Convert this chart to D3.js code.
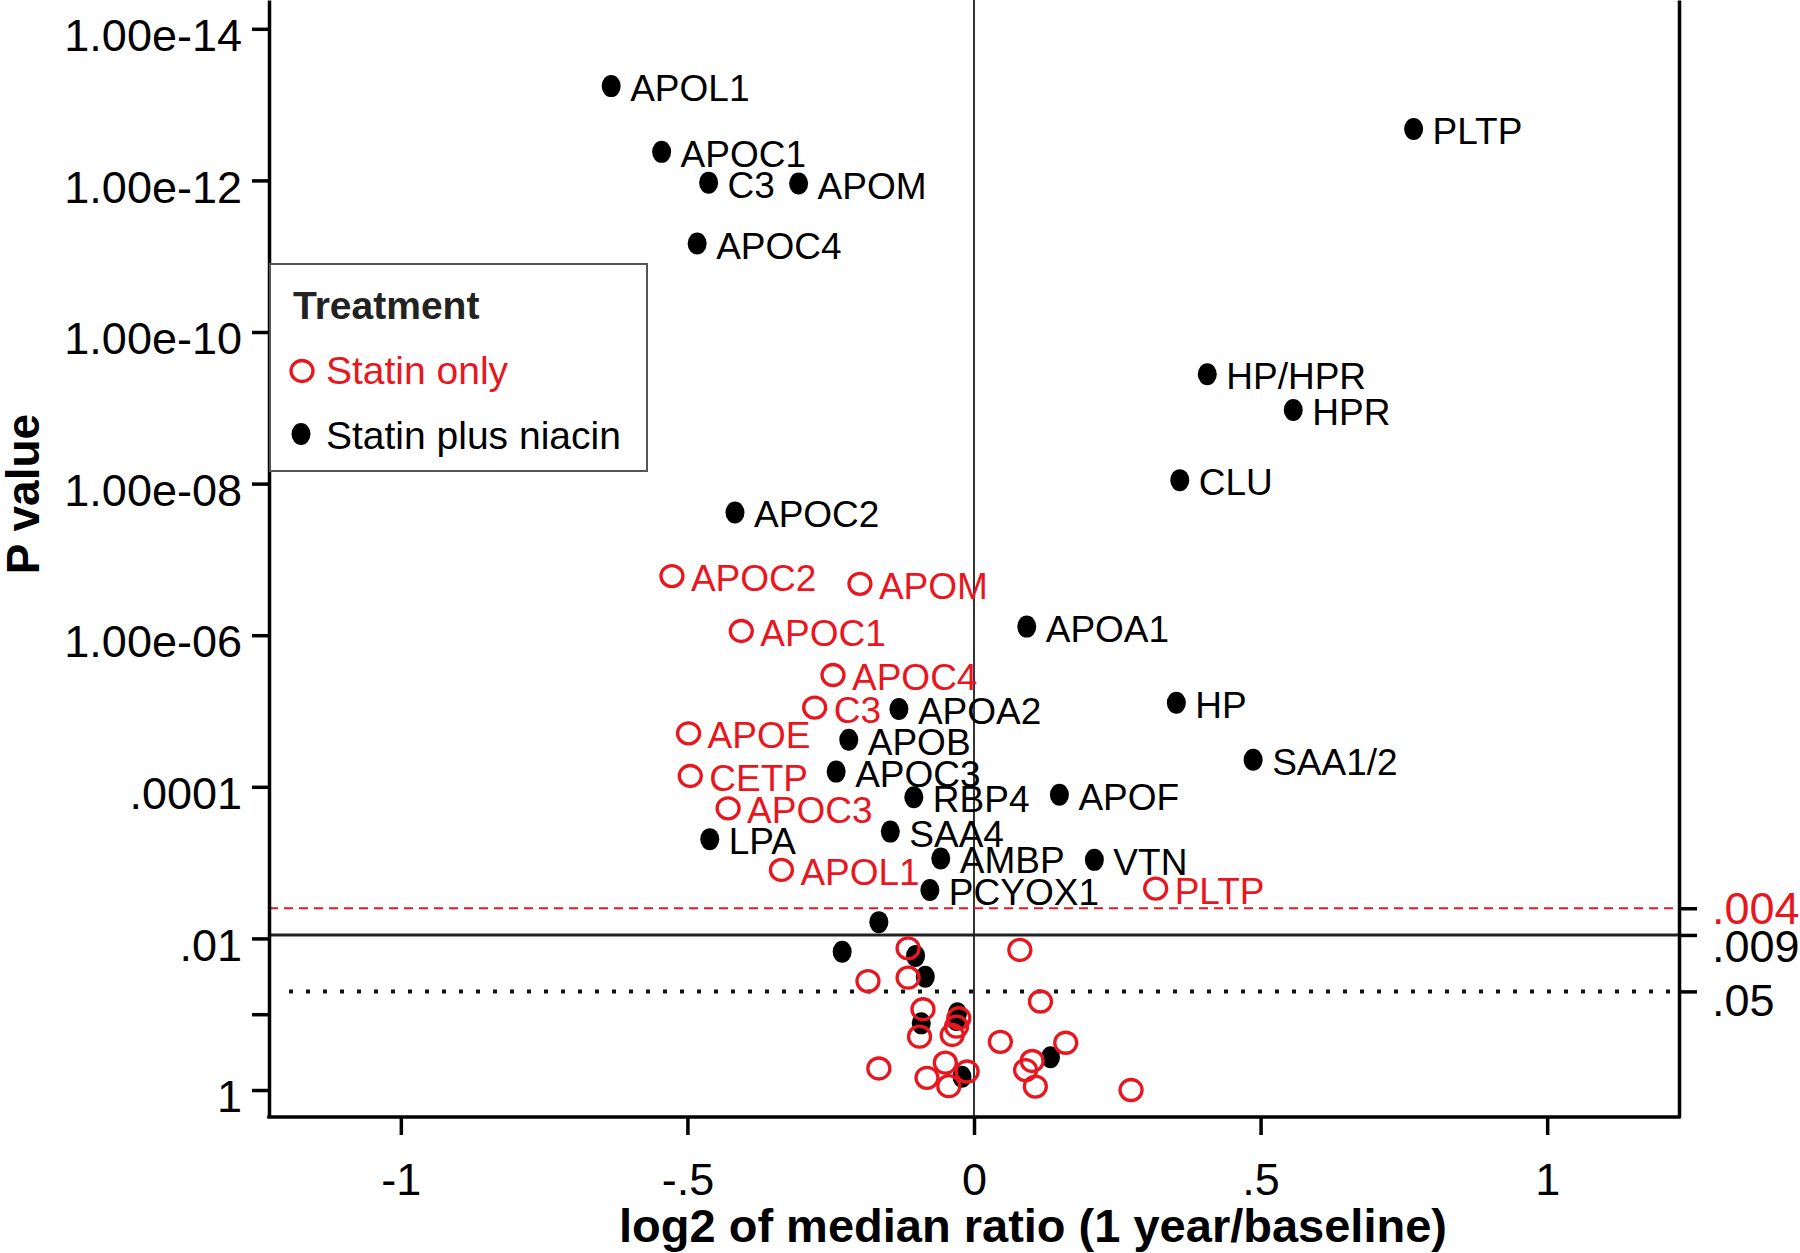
<!DOCTYPE html>
<html>
<head>
<meta charset="utf-8">
<script src="https://cdn.jsdelivr.net/npm/d3@7"></script>
<style>
  body { margin: 0; background: #fff; }
  text { font-family: "Liberation Sans", Arial, Helvetica, sans-serif; }
</style>
</head>
<body>
<div id="chart"></div>
<script>
// Statin plus niacin (filled black)
const niacinGenes = ["APOL1", "APOC1", "C3", "APOM", "APOC4", "PLTP", "HP/HPR", "HPR", "CLU", "APOC2",
    "APOA1", "HP", "SAA1/2", "APOA2", "APOB", "APOC3", "RBP4", "APOF", "SAA4", "LPA", "AMBP", "VTN", "PCYOX1",
    "", "", "", "", "", "", "", "", ""]
const niacinX = [-0.633, -0.545, -0.463, -0.306, -0.483, 0.767, 0.407, 0.557, 0.359, -0.417,
    0.092, 0.353, 0.487, -0.131, -0.2185, -0.2405, -0.105, 0.149, -0.146, -0.461, -0.058, 0.210, -0.077,
    -0.166, -0.230, -0.102, -0.085, -0.092, -0.029, -0.031, -0.021, 0.1335]
const niacinP = [5.7e-14, 4.2e-13, 1.07e-12, 1.1e-12, 6.8e-12, 2.1e-13, 3.6e-10, 1.07e-9, 9.0e-9, 2.4e-8,
    7.7e-7, 7.8e-6, 4.4e-5, 9.4e-6, 2.4e-5, 6.3e-5, 1.37e-4, 1.27e-4, 3.9e-4, 4.9e-4, 8.8e-4, 9.2e-4, 2.3e-3,
    6.1e-3, 0.015, 0.017, 0.032, 0.132, 0.097, 0.119, 0.67, 0.37]

// Statin only (open red)
const statinGenes = ["APOC2", "APOM", "APOC1", "APOC4", "C3", "APOE", "CETP", "APOC3", "APOL1", "PLTP",
    "", "", "", "", "", "", "", "", "", "", "", "", "", "", "", "", "", "", "", "", ""]
const statinX = [-0.527, -0.199, -0.406, -0.246, -0.278, -0.498, -0.495, -0.429, -0.336, 0.317,
    -0.115, -0.115, -0.185, -0.089, -0.095, -0.0265, -0.0305, -0.038, -0.166, -0.050, -0.082, -0.044, -0.012,
    0.080, 0.116, 0.046, 0.160, 0.1015, 0.090, 0.107, 0.274]
const statinP = [1.66e-7, 2.1e-7, 8.8e-7, 3.35e-6, 9.0e-6, 1.97e-5, 7.2e-5, 1.92e-4, 1.25e-3, 2.2e-3,
    0.0135, 0.033, 0.0365, 0.086, 0.198, 0.113, 0.146, 0.188, 0.52, 0.436, 0.69, 0.89, 0.57,
    0.0142, 0.068, 0.231, 0.238, 0.414, 0.545, 0.90, 1.0]

const yTickValues = [1e-14, 1e-12, 1e-10, 1e-8, 1e-6, 1e-4, 1e-2, 1e-1, 1]
const yTickLabels = ["1.00e-14", "1.00e-12", "1.00e-10", "1.00e-08", "1.00e-06", ".0001", ".01", "", "1"]
const xTickValues = [-1, -0.5, 0, 0.5, 1]
const xTickLabels = ["-1", "-.5", "0", ".5", "1"]
const cutValues = [0.004, 0.009, 0.05]
const cutLabels = [".004", ".009", ".05"]

const legendLabels = ["Statin only", "Statin plus niacin"]

const w = 1800
const h = 1253
const RED = "#e8171f"

const pLeft = 269, pRight = 1679, pTop = 0, pBottom = 1117

var svg = d3.select("#chart").append("svg")
    .attr("width", w).attr("height", h)

var x = d3.scaleLinear().domain([-1.23, 1.23]).range([pLeft, pRight])
var y = d3.scaleLog().domain([Math.pow(10, -14.38), Math.pow(10, 0.356)]).range([pTop, pBottom])

// zero line
svg.append("line")
    .attr("x1", x(0)).attr("x2", x(0))
    .attr("y1", pTop).attr("y2", pBottom)
    .attr("stroke", "#333").attr("stroke-width", 2)

// threshold lines
svg.append("line")
    .attr("x1", pLeft).attr("x2", pRight)
    .attr("y1", y(cutValues[0])).attr("y2", y(cutValues[0]))
    .attr("stroke", RED).attr("stroke-width", 2)
    .attr("stroke-dasharray", "9,6")
svg.append("line")
    .attr("x1", pLeft).attr("x2", pRight)
    .attr("y1", y(cutValues[1])).attr("y2", y(cutValues[1]))
    .attr("stroke", "#222").attr("stroke-width", 3)
svg.append("line")
    .attr("x1", pLeft + 20).attr("x2", pRight)
    .attr("y1", y(cutValues[2])).attr("y2", y(cutValues[2]))
    .attr("stroke", "#111").attr("stroke-width", 4)
    .attr("stroke-dasharray", "4,13")

// axes
var yAxis = d3.axisLeft(y).tickValues(yTickValues)
    .tickFormat(function(d, i) { return yTickLabels[i] })
    .tickSize(17).tickSizeOuter(0).tickPadding(10)
var gy = svg.append("g").attr("transform", "translate(" + pLeft + ",0)").call(yAxis)
gy.selectAll("text").attr("dy", "0.48em")

var xAxis = d3.axisBottom(x).tickValues(xTickValues)
    .tickFormat(function(d, i) { return xTickLabels[i] })
    .tickSize(18).tickSizeOuter(0).tickPadding(28)
var gx = svg.append("g").attr("transform", "translate(0," + pBottom + ")").call(xAxis)

var rAxis = d3.axisRight(y).tickValues(cutValues)
    .tickFormat(function(d, i) { return cutLabels[i] })
    .tickSize(18).tickSizeOuter(0).tickPadding(15)
var gr = svg.append("g").attr("transform", "translate(" + pRight + ",0)").call(rAxis)
var rDy = ["0.34em", "0.6em", "0.53em"]
gr.selectAll("text")
    .attr("dy", function(d, i) { return rDy[i] })
    .attr("fill", function(d, i) { return i == 0 ? RED : "#000" })

;[gx, gy, gr].forEach(function(g) {
    g.select(".domain").attr("stroke", "#000").attr("stroke-width", 3.5)
    g.selectAll(".tick line").attr("stroke", "#000").attr("stroke-width", 3.5)
    g.selectAll("text").attr("font-size", 45).style("font-family", "'Liberation Sans', Arial, sans-serif")
})
gx.select(".domain").attr("d", "M" + (pLeft - 1.75) + ",0H" + (pRight + 1.75))

// niacin points (drawn first, statin circles sit on top)
var niacin = niacinX.map(function(v, i) { return { x: v, p: niacinP[i], gene: niacinGenes[i] } })
var statin = statinX.map(function(v, i) { return { x: v, p: statinP[i], gene: statinGenes[i] } })

svg.selectAll(".niacin").data(niacin)
    .enter().append("ellipse")
    .attr("class", "niacin")
    .attr("cx", function(d) { return x(d.x) })
    .attr("cy", function(d) { return y(d.p) })
    .attr("rx", 9.5).attr("ry", 11)
    .attr("fill", "#000")

svg.selectAll(".statin").data(statin)
    .enter().append("ellipse")
    .attr("class", "statin")
    .attr("cx", function(d) { return x(d.x) })
    .attr("cy", function(d) { return y(d.p) })
    .attr("rx", 11).attr("ry", 10.5)
    .attr("fill", "none")
    .attr("stroke", RED).attr("stroke-width", 3.3)

// marker labels
svg.selectAll(".nlab").data(niacin.filter(function(d) { return d.gene != "" }))
    .enter().append("text")
    .attr("class", "nlab")
    .attr("x", function(d) { return x(d.x) + 19 })
    .attr("y", function(d) { return y(d.p) + 15 })
    .attr("font-size", 37)
    .attr("fill", "#000")
    .text(function(d) { return d.gene })

svg.selectAll(".slab").data(statin.filter(function(d) { return d.gene != "" }))
    .enter().append("text")
    .attr("class", "slab")
    .attr("x", function(d) { return x(d.x) + 19 })
    .attr("y", function(d) { return y(d.p) + 15 })
    .attr("font-size", 37)
    .attr("fill", RED)
    .text(function(d) { return d.gene })

// legend
var lg = svg.append("g")
lg.append("rect")
    .attr("x", 270).attr("y", 264).attr("width", 377).attr("height", 207)
    .attr("fill", "#fff").attr("stroke", "#555").attr("stroke-width", 2)
lg.append("text")
    .attr("x", 293).attr("y", 319)
    .attr("font-size", 39).attr("font-weight", "bold").attr("fill", "#222")
    .text("Treatment")
lg.append("ellipse")
    .attr("cx", 302).attr("cy", 371).attr("rx", 11).attr("ry", 10.5)
    .attr("fill", "none").attr("stroke", RED).attr("stroke-width", 3.3)
lg.append("text")
    .attr("x", 326).attr("y", 384).attr("font-size", 39).attr("fill", RED)
    .text(legendLabels[0])
lg.append("ellipse")
    .attr("cx", 301).attr("cy", 434).attr("rx", 9.5).attr("ry", 11)
    .attr("fill", "#000")
lg.append("text")
    .attr("x", 326).attr("y", 449).attr("font-size", 39).attr("fill", "#000")
    .text(legendLabels[1])

// axis titles
svg.append("text")
    .attr("x", 1033).attr("y", 1242)
    .attr("text-anchor", "middle")
    .attr("font-size", 47).attr("font-weight", "bold")
    .text("log2 of median ratio (1 year/baseline)")

svg.append("text")
    .attr("transform", "translate(39,494) rotate(-90)")
    .attr("text-anchor", "middle")
    .attr("font-size", 46).attr("font-weight", "bold")
    .text("P value")
</script>
</body>
</html>
